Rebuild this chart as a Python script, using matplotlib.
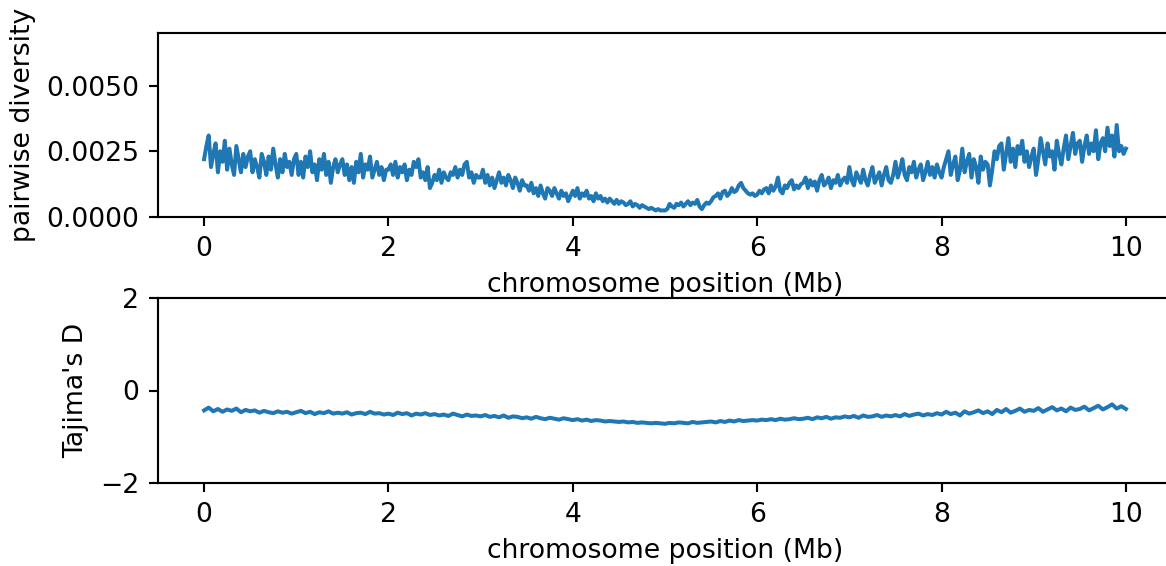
import numpy as np
import matplotlib
matplotlib.use("Agg")
import matplotlib.pyplot as plt

# pairwise diversity per window, in units of 1e-4,
# windows evenly spaced from 0 to 10 Mb
diversity_e4 = [
    22, 27, 31, 19, 24, 28, 17, 25, 21, 29, 18, 26, 20, 16, 27, 22, 17, 24, 19, 23,
    25, 17, 22, 19, 15, 24, 21, 16, 23, 18, 26, 20, 15, 22, 17, 24, 19, 21, 16, 22,
    24, 16, 21, 15, 23, 19, 25, 17, 20, 14, 22, 18, 24, 16, 21, 13, 19, 22, 17, 20,
    22, 16, 20, 14, 19, 13, 21, 17, 24, 15, 20, 18, 23, 15, 18, 21, 16, 19, 14, 18,
    18, 20, 16, 21, 15, 19, 17, 20, 14, 18, 16, 21, 19, 22, 15, 17, 14, 19, 11, 13,
    16, 14, 18, 13, 17, 15, 14, 17, 16, 19, 15, 18, 16, 20, 21, 15, 17, 13, 16, 15,
    15, 18, 13, 16, 12, 15, 11, 14, 17, 13, 15, 12, 16, 14, 11, 15, 13, 10, 14, 12,
    12, 10, 13, 9, 11, 8, 12, 9, 7, 11, 10, 8, 11, 9, 7, 10, 8, 9, 6, 8,
    10, 8, 11, 7, 9, 8, 10, 7, 8, 6, 9, 7, 8, 6, 7, 5.5, 7, 6, 5, 6.5,
    5, 6, 5.5, 4.5, 5, 6, 4, 5, 4.5, 3.5, 4.5, 4, 3.5, 3, 3.5, 3, 2.5, 3, 2.5, 2.5,
    2.5, 3, 5, 4, 3.5, 5, 4.5, 5.5, 4, 5, 6, 4.5, 5.5, 5, 6.5, 4, 3, 4.5, 5.5, 5,
    6, 7.5, 8, 9, 7, 9.5, 10, 8, 9, 11, 9.5, 10, 12, 13, 11, 10, 9, 8.5, 9, 8,
    8.5, 10, 9, 10.5, 11, 9, 12, 10, 11.5, 15, 10, 9, 12, 11, 13, 14, 10.5, 12, 11, 12.5,
    13, 15, 11, 14, 12, 13.5, 10, 14, 16, 12, 13, 15, 11, 14, 13, 16, 12, 14, 15, 13,
    19, 14, 12, 17, 15, 13, 18, 14, 12, 16, 19, 13, 15, 17, 12, 16, 19, 14, 13, 16,
    21, 15, 18, 22, 16, 14, 19, 17, 21, 15, 18, 20, 14, 17, 21, 16, 19, 15, 20, 17,
    15, 19, 22, 25, 16, 20, 23, 14, 18, 26, 17, 21, 24, 15, 22, 19, 13, 23, 18, 21,
    20, 12, 18, 25, 22, 27, 28, 18, 24, 30, 21, 26, 19, 27, 24, 29, 21, 25, 19, 23,
    26, 16, 22, 30, 25, 20, 28, 23, 25, 18, 29, 24, 20, 26, 31, 22, 27, 32, 24, 28,
    29, 21, 27, 31, 24, 28, 25, 33, 22, 28, 30, 25, 34, 27, 31, 23, 35, 25, 27, 24, 26,
]

# Tajima's D per window, in hundredths
tajima_e2 = [
    -43, -37, -45, -40, -46, -41, -44, -39, -47, -42,
    -45, -43, -48, -44, -47, -49, -45, -48, -46, -50,
    -47, -44, -49, -46, -51, -47, -49, -45, -50, -48,
    -50, -47, -52, -49, -48, -51, -46, -50, -49, -52,
    -50, -53, -48, -51, -49, -54, -50, -52, -49, -53,
    -51, -54, -52, -55, -50, -53, -56, -52, -55, -54,
    -56, -53, -57, -55, -58, -54, -59, -56, -57, -60,
    -58, -61, -57, -60, -62, -59, -61, -63, -60, -62,
    -64, -62, -65, -63, -66, -64, -65, -67, -66, -67,
    -68, -67, -69, -68, -70, -69, -70, -71, -70, -71,
    -72, -70, -71, -69, -70, -71, -68, -70, -69, -68,
    -67, -69, -66, -68, -65, -67, -64, -66, -65, -64,
    -65, -63, -64, -62, -64, -61, -63, -62, -60, -62,
    -61, -59, -62, -58, -60, -57, -61, -58, -59, -56,
    -58, -55, -59, -54, -57, -56, -53, -57, -54, -56,
    -53, -56, -51, -55, -52, -50, -54, -51, -53, -49,
    -52, -46, -51, -48, -54, -45, -50, -47, -43, -49,
    -45, -51, -42, -47, -40, -48, -44, -39, -46, -42,
    -44, -38, -46, -41, -36, -43, -39, -45, -37, -42,
    -40, -35, -43, -38, -33, -41, -36, -30, -39, -34, -40,
]

x_ticks = [0, 2, 4, 6, 8, 10]
chrom_start_mb, chrom_end_mb = 0, 10

diversity = np.array(diversity_e4) * 1e-4
tajima = np.array(tajima_e2) / 100.0
pos_div = np.linspace(chrom_start_mb, chrom_end_mb, len(diversity))
pos_taj = np.linspace(chrom_start_mb, chrom_end_mb, len(tajima))

W, H = 1166, 566
dpi = 192
fig = plt.figure(figsize=(W / dpi, H / dpi), dpi=dpi)

color = "#1f77b4"

ax1 = fig.add_axes([158 / W, 1 - 217 / H, (1172 - 158) / W, (217 - 33) / H])
ax1.plot(pos_div, diversity, color=color, lw=1.5)
ax1.set_xlim(-0.5, 10.5)
ax1.set_ylim(0, 0.007)
ax1.set_yticks([0, 0.0025, 0.005])
ax1.set_yticklabels(["0.0000", "0.0025", "0.0050"])
ax1.set_xticks(x_ticks)
ax1.set_xlabel("chromosome position (Mb)")
ax1.set_ylabel("pairwise diversity")

ax2 = fig.add_axes([158 / W, 1 - 483 / H, (1172 - 158) / W, (483 - 298) / H])
ax2.plot(pos_taj, tajima, color=color, lw=1.5)
ax2.set_xlim(-0.5, 10.5)
ax2.set_ylim(-2, 2)
ax2.set_yticks([-2, 0, 2])
ax2.set_xticks(x_ticks)
ax2.set_xlabel("chromosome position (Mb)")
ax2.set_ylabel("Tajima's D")

fig.savefig("out.png", dpi=dpi)
